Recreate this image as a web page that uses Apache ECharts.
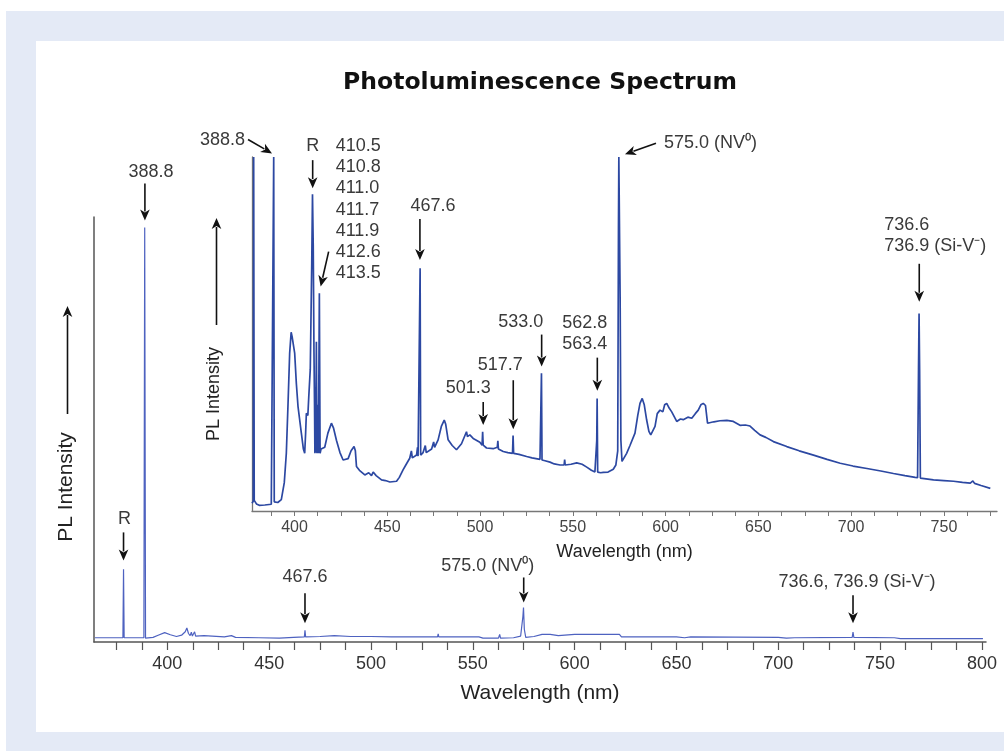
<!DOCTYPE html>
<html>
<head>
<meta charset="utf-8">
<title>Photoluminescence Spectrum</title>
<script src="https://cdn.jsdelivr.net/npm/echarts@6/dist/echarts.min.js"></script>
<style>
  html, body { margin: 0; background: #fff; }
  #frame { position: absolute; left: 6px; top: 11px; right: 0; bottom: 0; background: #e4eaf6; }
  #panel { position: absolute; left: 36px; top: 41px; right: 0; height: 691px; background: #fff; }
  #chart { position: absolute; left: 0; top: 0; width: 1004px; height: 751px; }
</style>
</head>
<body>
<div id="frame"></div>
<div id="panel"></div>
<div id="chart"></div>
<script>
// full spectrum (main plot): [wavelength nm, PL intensity a.u.]
const mainSpectrum = [
  [364.5, 1.0], [372, 1.0], [378.2, 1.0], [378.5, 17.1], [378.8, 1.0], [384, 1.0],
  [388.5, 1.0], [388.9, 97.5], [389.3, 0.9], [393, 1.1], [395.5, 1.6], [398.7, 2.2],
  [401.5, 1.7], [404.5, 1.3], [407, 1.6], [408.8, 2.4], [409.6, 3.3], [410.4, 2.0],
  [411.2, 1.5], [411.8, 2.3], [412.3, 1.4], [413.4, 2.4], [413.9, 1.4], [418, 1.5],
  [422, 1.4], [428, 1.2], [431.5, 1.5], [433.5, 1.1], [445, 1.0], [455, 0.9],
  [462, 1.1], [467.3, 1.2], [467.6, 2.75], [467.9, 1.2], [475, 1.3], [482, 1.5],
  [490, 1.3], [500, 1.3], [510, 1.2], [520, 1.2], [532.7, 1.2], [533.0, 1.9],
  [533.3, 1.2], [545, 1.2], [553, 1.2], [555, 0.9], [562.6, 0.9], [563.2, 1.8],
  [563.6, 0.9], [570, 1.0], [573.5, 1.4], [574.6, 6.0], [574.9, 8.1], [575.3, 3.0],
  [576, 1.1], [580, 1.3], [584, 1.8], [588, 1.8], [592, 1.5], [600, 1.8],
  [612, 1.8], [622, 1.8], [623, 1.2], [650, 1.2], [654, 1.0], [657, 1.2],
  [700, 1.1], [704, 0.9], [708, 1.0], [736.3, 1.1], [736.7, 2.35], [737.1, 1.1],
  [757, 1.0], [760, 0.8], [800.5, 0.8]
]

// zoomed spectrum (inset): [wavelength nm, PL intensity a.u.], strongest lines clipped at 100
const insetSpectrum = [
  [377.1, 2.2], [377.8, 2.8], [378.0, 100], [378.3, 3.0], [379.5, 2.0], [381, 1.6],
  [384, 1.7], [387.5, 1.9], [388.5, 2.3], [388.8, 100], [389.1, 2.6], [391, 2.4],
  [392.9, 3.2], [394.5, 8], [395.6, 16.3], [396.5, 30], [397.4, 44.6], [398.2, 50.5],
  [398.8, 49], [400.1, 44.6], [401.0, 36], [401.9, 29.5], [403.7, 22], [404.8, 17.5],
  [405.5, 16.3], [406.0, 22], [406.4, 27.6], [407.2, 27], [407.7, 32.3], [408.5, 40],
  [409.3, 70], [409.7, 89.5], [410.1, 75], [410.5, 45], [410.8, 30], [411.0, 16.3],
  [411.2, 35], [411.4, 16.5], [411.8, 47.8], [412.1, 16.3], [412.6, 30], [412.9, 16.3],
  [413.4, 61.5], [413.8, 16.3], [414.3, 17.5], [416.3, 18], [418, 22], [419.9, 24.8],
  [421, 23.5], [422.6, 20], [424.5, 16.5], [426.2, 14.4], [428.9, 14.8], [430.5, 17],
  [432.1, 18.2], [432.8, 17], [433.4, 12.6], [435, 11.5], [437.9, 10.2], [440, 10.8],
  [441.5, 10], [442.4, 11], [444, 10], [446.9, 8.8], [449, 8.6], [451.4, 8.2],
  [455, 8.4], [456.5, 9.5], [458.5, 11.6], [460, 13], [462.1, 14.9], [463, 17],
  [463.5, 15], [465.8, 15.8], [466.3, 18], [466.6, 15.5], [467.4, 15.8], [467.7, 68.6],
  [468, 15.8], [469.3, 16.5], [470.5, 18.5], [471, 16.5], [473.9, 17.5], [475, 19.5],
  [475.5, 18], [477.4, 20.1], [479.2, 24], [480.7, 25.7], [481.5, 24.5], [482.8, 20.1],
  [485, 18.5], [487.3, 17.3], [490, 19], [492.7, 22.4], [493.2, 21], [494.5, 21.5],
  [496.3, 20.5], [498, 20], [499.9, 19.4], [501.1, 18.6], [501.4, 22.4], [501.7, 18.6],
  [503.5, 17.8], [507.1, 17.6], [509.3, 18], [509.6, 19.8], [509.9, 17.5], [512.5, 16.8],
  [515, 16.5], [517.5, 16.3], [517.8, 21.3], [518.1, 16.3], [521, 16], [525.1, 15.4],
  [528, 15], [532.3, 14.6], [532.9, 14.4], [533.1, 38.9], [533.4, 14.4], [535, 14.2],
  [537.7, 13.8], [540, 13.3], [543.1, 13], [545.3, 13], [545.6, 14.5], [545.9, 13],
  [549, 13.2], [552.1, 13.6], [555, 13.2], [557.5, 12.4], [560, 11.5], [561.9, 11],
  [562.7, 11], [562.9, 20], [563.1, 31.8], [563.4, 11], [565, 10.8], [566.4, 10.9],
  [569, 11], [571.8, 11.8], [573.2, 13], [574.2, 17], [574.6, 80], [574.8, 100],
  [575.2, 100], [575.5, 60], [575.9, 20], [576.5, 14], [577.2, 14.4], [579.0, 16.3],
  [580.8, 18.5], [583.5, 22], [585.0, 27], [586.2, 30.4], [587.4, 31.8], [588.5, 30],
  [589.8, 25.7], [591, 22.5], [592.0, 21.5], [594.3, 23.9], [595.5, 27.5], [597.0, 28.5],
  [598.5, 28], [599.5, 30], [600.6, 30.4], [602, 29], [603.3, 28], [606.0, 25.3],
  [608, 26], [609.5, 25.8], [612, 26.5], [614.1, 26.2], [616, 27.5], [617.6, 28.5],
  [619, 30], [620.3, 30.4], [621.5, 29.8], [622.2, 29.5], [622.6, 24.8], [623.0, 24.8],
  [626, 25.2], [629.3, 25.5], [633, 25.6], [636.5, 25.3], [640.1, 24.2], [643, 24.3],
  [645.5, 24], [648, 22.8], [650.9, 21.5], [654, 20.8], [658.1, 19.6], [665.3, 18.2],
  [672, 17], [679.7, 15.8], [687, 14.6], [694.1, 13.5], [701, 12.7], [708.5, 12],
  [716, 11.3], [722.8, 10.6], [729, 10], [734.5, 9.5], [735.8, 9.4], [736.3, 40],
  [736.6, 55.8], [736.9, 40], [737.3, 9.3], [738, 9.0], [744.4, 8.8], [750, 8.6],
  [755.2, 8.4], [760, 8.1], [764.2, 7.9], [765.6, 8.5], [766.5, 7.8], [770, 7.2],
  [775.0, 6.4]
]

const mainTicks = [375, 387.5, 400, 412.5, 425, 437.5, 450, 462.5, 475, 487.5, 500, 512.5,
  525, 537.5, 550, 562.5, 575, 587.5, 600, 612.5, 625, 637.5, 650, 662.5, 675, 687.5,
  700, 712.5, 725, 737.5, 750, 762.5, 775, 787.5, 800]
const mainTickLabels = [400, 450, 500, 550, 600, 650, 700, 750, 800]
const insetTicks = [387.5, 400, 412.5, 425, 437.5, 450, 462.5, 475, 487.5, 500, 512.5,
  525, 537.5, 550, 562.5, 575, 587.5, 600, 612.5, 625, 637.5, 650, 662.5, 675, 687.5,
  700, 712.5, 725, 737.5, 750, 762.5, 775]
const insetTickLabels = [400, 450, 500, 550, 600, 650, 700, 750]

// peak annotations: arrow tip in data units, arrow tail and label offsets in px
const mainNotes = [
  { text: '388.8', at: [389.0, 99.2], tail: [0, -37], label: [6, -48], align: 'center' },
  { text: 'R', at: [378.5, 19.2], tail: [0, -28], label: [1, -41], align: 'center' },
  { text: '467.6', at: [467.6, 4.4], tail: [0, -30], label: [0, -46], align: 'center' },
  { text: '575.0 (NV⁰)', at: [575.0, 9.3], tail: [0, -25], label: [-36, -36], align: 'center' },
  { text: '736.6, 736.9 (Si-V⁻)', at: [736.7, 4.4], tail: [0, -28], label: [4, -41], align: 'center' }
]
const insetNotes = [
  { text: '388.8', at: [387.9, 101], tail: [-24, -14], label: [-27, -13], align: 'right' },
  { text: 'R', at: [409.8, 91.2], tail: [0, -28], label: [0, -42], align: 'center' },
  { text: '410.5\n410.8\n411.0\n411.7\n411.9\n412.6\n413.5', at: [414.1, 63.4], tail: [8, -35], label: [15, -77], align: 'left' },
  { text: '467.6', at: [467.6, 70.9], tail: [0, -41], label: [13, -54], align: 'center' },
  { text: '501.3', at: [501.7, 24.3], tail: [0, -23], label: [-15, -37], align: 'center' },
  { text: '517.7', at: [517.9, 23.1], tail: [0, -49], label: [-13, -64], align: 'center' },
  { text: '533.0', at: [533.2, 40.8], tail: [0, -32], label: [-21, -45], align: 'center' },
  { text: '562.8\n563.4', at: [563.2, 34], tail: [0, -33], label: [-35, -57], align: 'left' },
  { text: '575.0 (NV⁰)', at: [578.1, 100.8], tail: [31, -11], label: [39, -11], align: 'left' },
  { text: '736.6\n736.9 (Si-V⁻)', at: [736.7, 59.1], tail: [0, -38], label: [-35, -66], align: 'left' }
]

const FONT = 'Liberation Sans, Arial, sans-serif'
const chart = echarts.init(document.getElementById('chart'))

chart.setOption({
  animation: false,
  grid: [
    { left: 94, right: 18, top: 217, bottom: 109 },
    { left: 252, right: 7, top: 157, bottom: 240 }
  ],
  xAxis: [
    {
      gridIndex: 0, type: 'value', min: 364, max: 802,
      axisLine: { lineStyle: { color: '#555', width: 1.5 } },
      axisTick: { length: 8, customValues: mainTicks, lineStyle: { color: '#555', width: 1.2 } },
      axisLabel: { customValues: mainTickLabels, fontSize: 18, color: '#333', margin: 13, fontFamily: FONT },
      splitLine: { show: false },
      name: 'Wavelength (nm)', nameLocation: 'middle', nameGap: 41,
      nameTextStyle: { fontSize: 21, color: '#222', fontFamily: FONT }
    },
    {
      gridIndex: 1, type: 'value', min: 377.1, max: 778.6,
      axisLine: { lineStyle: { color: '#777', width: 1.3 } },
      axisTick: { length: 5, customValues: insetTicks, lineStyle: { color: '#777', width: 1 } },
      axisLabel: { customValues: insetTickLabels, fontSize: 16, color: '#444', margin: 9, fontFamily: FONT },
      splitLine: { show: false },
      name: 'Wavelength (nm)', nameLocation: 'middle', nameGap: 32,
      nameTextStyle: { fontSize: 18, color: '#222', fontFamily: FONT }
    }
  ],
  yAxis: [
    {
      gridIndex: 0, type: 'value', min: 0, max: 100,
      axisLine: { show: true, lineStyle: { color: '#555', width: 1.5 } },
      axisTick: { show: false }, axisLabel: { show: false }, splitLine: { show: false }
    },
    {
      gridIndex: 1, type: 'value', min: 0, max: 100,
      axisLine: { show: true, lineStyle: { color: '#777', width: 1.3 } },
      axisTick: { show: false }, axisLabel: { show: false }, splitLine: { show: false }
    }
  ],
  series: [
    {
      type: 'line', xAxisIndex: 0, yAxisIndex: 0, data: mainSpectrum,
      showSymbol: false, lineStyle: { color: '#4e62c0', width: 1.2 }
    },
    {
      type: 'line', xAxisIndex: 1, yAxisIndex: 1, data: insetSpectrum,
      showSymbol: false, lineStyle: { color: '#2c48a2', width: 1.7 }
    }
  ]
})

function arrow(tail, tip) {
  const dx = tip[0] - tail[0], dy = tip[1] - tail[1]
  const len = Math.hypot(dx, dy)
  const ux = dx / len, uy = dy / len
  const hl = 11, hw = 4.8
  const base = [tip[0] - ux * hl, tip[1] - uy * hl]
  return [
    { type: 'line', shape: { x1: tail[0], y1: tail[1], x2: base[0] + ux * 2, y2: base[1] + uy * 2 },
      style: { stroke: '#111', lineWidth: 1.6 } },
    { type: 'polygon',
      shape: { points: [tip, [base[0] - uy * hw, base[1] + ux * hw], [tip[0] - ux * 8, tip[1] - uy * 8], [base[0] + uy * hw, base[1] - ux * hw]] },
      style: { fill: '#111' } }
  ]
}

function text(x, y, str, size, opts) {
  return Object.assign({
    type: 'text', x: x, y: y,
    style: { text: str, fill: '#3a3a3a', fontSize: size, fontFamily: FONT, align: 'center', verticalAlign: 'middle', lineHeight: 21.3 }
  }, opts || {})
}

const graphics = []
function addNotes(notes, gridIndex, size) {
  notes.forEach(n => {
    const tip = chart.convertToPixel({ gridIndex: gridIndex }, n.at)
    const tail = [tip[0] + n.tail[0], tip[1] + n.tail[1]]
    graphics.push(...arrow(tail, tip))
    const t = text(tip[0] + n.label[0], tip[1] + n.label[1], n.text, size)
    t.style.align = n.align
    graphics.push(t)
  })
}
addNotes(mainNotes, 0, 18)
addNotes(insetNotes, 1, 18)

// title and y-axis labels with their arrows
graphics.push({
  type: 'text', x: 540, y: 83,
  style: { text: 'Photoluminescence Spectrum', fill: '#111', fontSize: 23.5, fontWeight: 'bold', fontFamily: 'DejaVu Sans, sans-serif', align: 'center', verticalAlign: 'middle' }
})
graphics.push(text(66, 487, 'PL Intensity', 21, { rotation: Math.PI / 2 }))
graphics[graphics.length - 1].style.fill = '#222'
graphics.push(...arrow([67.5, 414], [67.5, 306]))
graphics.push(text(214, 394, 'PL Intensity', 18, { rotation: Math.PI / 2 }))
graphics[graphics.length - 1].style.fill = '#222'
graphics.push(...arrow([216.5, 325], [216.5, 218]))

chart.setOption({ graphic: graphics })

window.addEventListener('resize', () => chart.resize())
</script>
</body>
</html>
